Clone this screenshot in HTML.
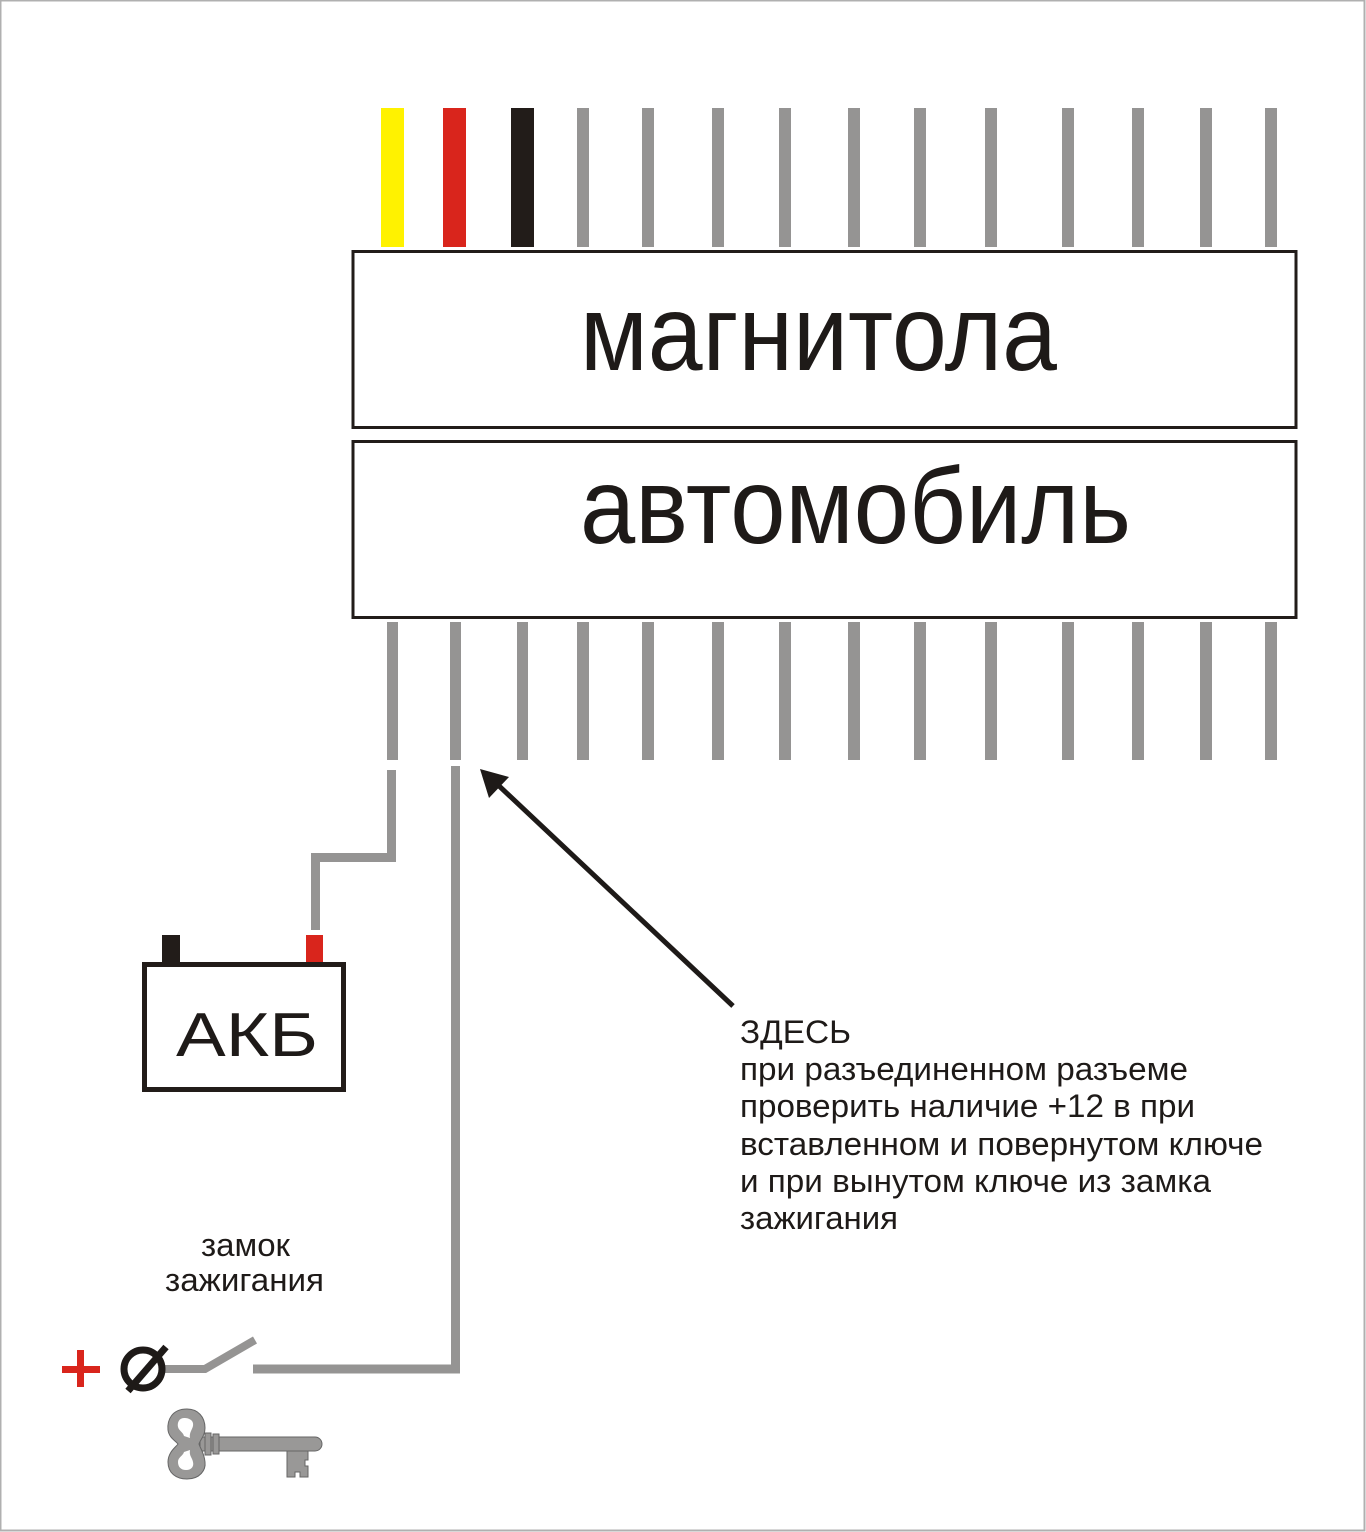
<!DOCTYPE html>
<html><head><meta charset="utf-8"><style>
html,body{margin:0;padding:0;background:#fff;}
svg{display:block;}
text{font-family:"Liberation Sans",Arial,sans-serif;fill:#1e1a18;}
</style></head><body>
<svg width="1366" height="1532" viewBox="0 0 1366 1532" xmlns="http://www.w3.org/2000/svg">
<rect x="0.5" y="0.5" width="1364" height="1530" fill="#fff" stroke="#b0b0b0" stroke-width="2"/>
<rect x="381" y="108" width="23" height="139" fill="#fff200"/>
<rect x="443" y="108" width="23" height="139" fill="#d9251c"/>
<rect x="511" y="108" width="23" height="139" fill="#221c19"/>
<g fill="#959493">
<rect x="577" y="108" width="12" height="139"/>
<rect x="642" y="108" width="12" height="139"/>
<rect x="712" y="108" width="12" height="139"/>
<rect x="779" y="108" width="12" height="139"/>
<rect x="848" y="108" width="12" height="139"/>
<rect x="914" y="108" width="12" height="139"/>
<rect x="985" y="108" width="12" height="139"/>
<rect x="1062" y="108" width="12" height="139"/>
<rect x="1132" y="108" width="12" height="139"/>
<rect x="1200" y="108" width="12" height="139"/>
<rect x="1265" y="108" width="12" height="139"/>
</g>
<rect x="353" y="251.5" width="943" height="176" fill="#fff" stroke="#221c19" stroke-width="3"/>
<rect x="353" y="441.5" width="943" height="176" fill="#fff" stroke="#221c19" stroke-width="3"/>
<text x="580" y="370" font-size="108" textLength="477" lengthAdjust="spacingAndGlyphs">магнитола</text>
<text x="580" y="543" font-size="108" textLength="551" lengthAdjust="spacingAndGlyphs">автомобиль</text>
<g fill="#959493">
<rect x="387" y="622" width="11" height="138"/>
<rect x="450" y="622" width="11" height="138"/>
<rect x="517" y="622" width="11" height="138"/>
<rect x="577" y="622" width="12" height="138"/>
<rect x="642" y="622" width="12" height="138"/>
<rect x="712" y="622" width="12" height="138"/>
<rect x="779" y="622" width="12" height="138"/>
<rect x="848" y="622" width="12" height="138"/>
<rect x="914" y="622" width="12" height="138"/>
<rect x="985" y="622" width="12" height="138"/>
<rect x="1062" y="622" width="12" height="138"/>
<rect x="1132" y="622" width="12" height="138"/>
<rect x="1200" y="622" width="12" height="138"/>
<rect x="1265" y="622" width="12" height="138"/>
</g>
<polyline points="391.5,770 391.5,857.5 315.5,857.5 315.5,930" fill="none" stroke="#959493" stroke-width="9"/>
<polyline points="455.5,766 455.5,1369 253,1369" fill="none" stroke="#959493" stroke-width="9"/>
<polyline points="165,1369 205,1369 255,1340" fill="none" stroke="#959493" stroke-width="8"/>
<rect x="162" y="935" width="18" height="29" fill="#221c19"/>
<rect x="306" y="935" width="17" height="29" fill="#d9251c"/>
<rect x="144.5" y="964.5" width="199" height="125" fill="#fff" stroke="#221c19" stroke-width="5"/>
<text x="176" y="1056" font-size="62" textLength="142" lengthAdjust="spacingAndGlyphs">АКБ</text>
<line x1="733" y1="1006" x2="497" y2="784" stroke="#1e1a18" stroke-width="5"/>
<polygon points="480,769 509,777 489,798" fill="#1e1a18"/>
<g font-size="32" lengthAdjust="spacingAndGlyphs">
<text x="740" y="1043" textLength="111" lengthAdjust="spacingAndGlyphs">ЗДЕСЬ</text>
<text x="740" y="1080" textLength="448" lengthAdjust="spacingAndGlyphs">при разъединенном разъеме</text>
<text x="740" y="1117" textLength="455" lengthAdjust="spacingAndGlyphs">проверить наличие +12 в при</text>
<text x="740" y="1155" textLength="523" lengthAdjust="spacingAndGlyphs">вставленном и повернутом ключе</text>
<text x="740" y="1192" textLength="471" lengthAdjust="spacingAndGlyphs">и при вынутом ключе из замка</text>
<text x="740" y="1229" textLength="158" lengthAdjust="spacingAndGlyphs">зажигания</text>
</g>
<g font-size="32">
<text x="201" y="1256" textLength="89" lengthAdjust="spacingAndGlyphs">замок</text>
<text x="165" y="1291" textLength="159" lengthAdjust="spacingAndGlyphs">зажигания</text>
</g>
<rect x="62" y="1366" width="38" height="7" fill="#d9251c"/>
<rect x="77" y="1350" width="7" height="37" fill="#d9251c"/>
<ellipse cx="143" cy="1369" rx="19" ry="19" fill="none" stroke="#1e1a18" stroke-width="7"/>
<line x1="128" y1="1391" x2="166" y2="1347" stroke="#1e1a18" stroke-width="7"/>
<g fill="#999897" stroke="#666" stroke-width="1">
<path d="M200,1437 L315,1437 A7,7 0 0 1 315,1451 L200,1451 Z"/>
<rect x="205" y="1433" width="6" height="22"/>
<rect x="213" y="1434" width="6" height="20"/>
<path d="M287,1451 L308,1451 L308,1460 L305,1460 L305,1466 L308,1466 L308,1477 L300,1477 L300,1472 L295,1472 L295,1477 L287,1477 Z"/>
<path d="M187,1409 C172,1409 167,1420 168,1430 C169,1438 176,1441 178,1444 C176,1447 168,1452 168,1462 C168,1473 176,1479 187,1479 C200,1479 206,1470 205,1462 C204,1452 200,1448 199,1444 C200,1440 205,1436 205,1428 C205,1417 198,1409 187,1409 Z"/>
</g>
<g fill="#fff">
<path d="M184,1418 C179,1418 177,1423 178,1427 C179,1431 183,1432 184,1436 L190,1438 C189,1433 192,1430 193,1426 C194,1421 190,1418 184,1418 Z"/>
<path d="M184,1452 C183,1456 178,1457 178,1462 C178,1467 181,1470 186,1470 C192,1470 194,1466 193,1462 C192,1457 189,1456 190,1450 Z"/>
</g>
</svg>
</body></html>
